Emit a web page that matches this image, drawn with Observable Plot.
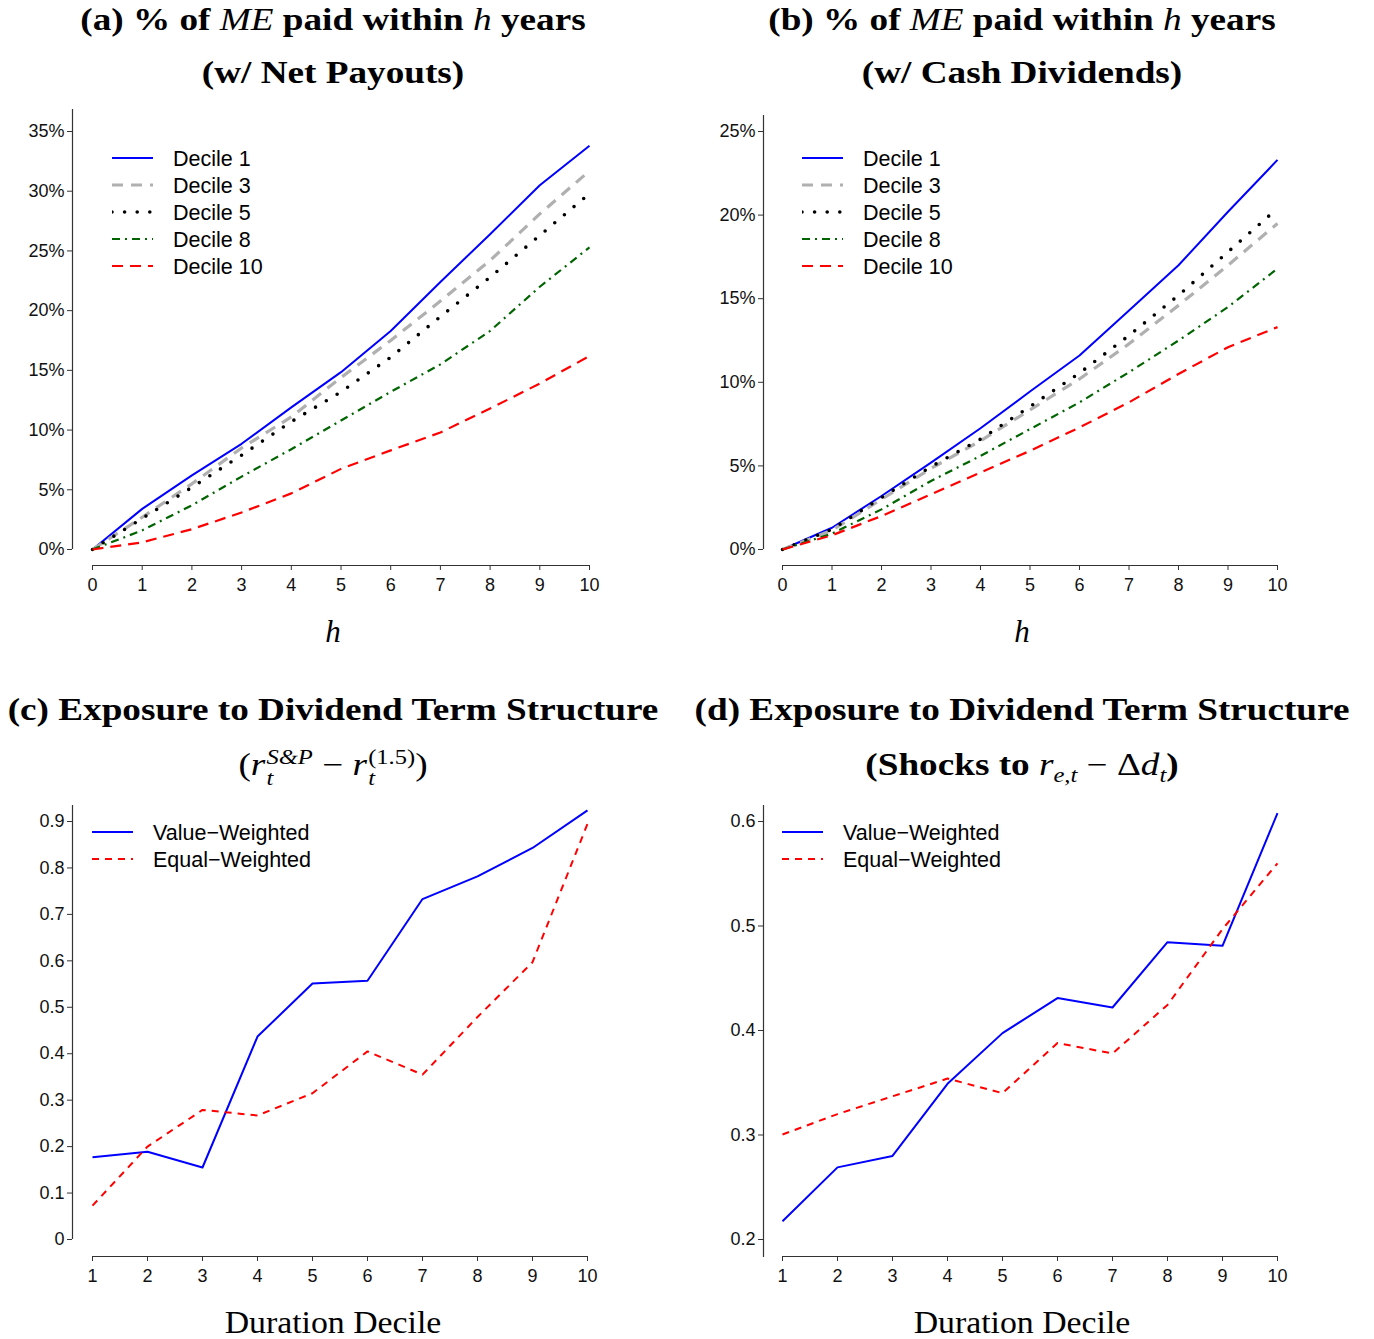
<!DOCTYPE html>
<html>
<head>
<meta charset="utf-8">
<script src="https://cdn.jsdelivr.net/npm/d3@7"></script>
<script src="https://cdn.jsdelivr.net/npm/@observablehq/plot@0.6"></script>
<style>
  html, body { margin: 0; padding: 0; background: #fff; }
  #page { position: relative; width: 1374px; height: 1339px; overflow: hidden; }
  .title { position: absolute; text-align: center; font-family: "Liberation Serif", serif; font-weight: bold; font-size: 31px; line-height: 36px; color: #000; white-space: nowrap; transform: scaleX(1.2); transform-origin: 50% 50%; }
  .title .m { font-style: italic; font-weight: normal; }
  .title .n { font-weight: normal; }
  .xlab { position: absolute; text-align: center; font-family: "Liberation Serif", serif; font-size: 31px; line-height: 36px; color: #000; white-space: nowrap; }
  .xlab.wide { transform: scaleX(1.09); transform-origin: 50% 50%; }
  .panel { position: absolute; }
  .ss { display: inline-block; vertical-align: middle; line-height: 1.0; font-size: 0.66em; text-align: left; margin-left: 1px; }
  .ss span { display: block; }
  .ss .sup { margin-bottom: 0px; }
</style>
</head>
<body>
<div id="page"></div>
<script>
// ---------------- data ----------------
const years = [0, 1, 2, 3, 4, 5, 6, 7, 8, 9, 10];
const deciles = [1, 2, 3, 4, 5, 6, 7, 8, 9, 10];

// Panel (a): % of ME paid within h years (net payouts), percent
const a_d1  = [0, 3.4, 6.2, 8.85, 11.9, 14.85, 18.3, 22.4, 26.4, 30.5, 33.8];
const a_d3  = [0, 2.7, 5.5, 8.5, 11.1, 14.4, 17.5, 20.8, 24.2, 28.1, 31.7];
const a_d5  = [0, 2.6, 5.2, 7.9, 10.7, 13.2, 16.1, 19.5, 22.8, 26.3, 29.8];
const a_d8  = [0, 1.6, 3.7, 6.1, 8.4, 10.8, 13.2, 15.5, 18.3, 22.0, 25.3];
const a_d10 = [0, 0.6, 1.7, 3.1, 4.7, 6.75, 8.3, 9.8, 11.8, 13.9, 16.2];

// Panel (b): % of ME paid within h years (cash dividends), percent
const b_d1  = [0, 1.3, 3.2, 5.2, 7.25, 9.45, 11.6, 14.3, 17.0, 20.2, 23.3];
const b_d3  = [0, 1.15, 3.0, 4.85, 6.5, 8.35, 10.2, 12.3, 14.6, 17.0, 19.5];
const b_d5  = [0, 1.2, 3.1, 4.95, 6.6, 8.55, 10.55, 12.8, 15.2, 17.8, 20.4];
const b_d8  = [0, 0.95, 2.4, 4.1, 5.6, 7.2, 8.8, 10.6, 12.5, 14.5, 16.8];
const b_d10 = [0, 0.85, 2.0, 3.3, 4.6, 5.9, 7.3, 8.8, 10.5, 12.1, 13.3];

// Panel (c): exposure to dividend term structure (r S&P - r(1.5))
const c_vw = [0.177, 0.189, 0.155, 0.437, 0.551, 0.557, 0.733, 0.782, 0.843, 0.924];
const c_ew = [0.073, 0.200, 0.279, 0.267, 0.315, 0.405, 0.355, 0.479, 0.597, 0.895];

// Panel (d): exposure to dividend term structure (shocks to r_e,t - Δd_t)
const d_vw = [0.2175, 0.269, 0.280, 0.349, 0.3975, 0.431, 0.422, 0.4845, 0.481, 0.608];
const d_ew = [0.3005, 0.320, 0.337, 0.354, 0.340, 0.388, 0.378, 0.4245, 0.497, 0.560];

const decileNames = ["Decile 1", "Decile 3", "Decile 5", "Decile 8", "Decile 10"];
const weightNames = ["Value\u2212Weighted", "Equal\u2212Weighted"];

const pctTicks_a = [0, 5, 10, 15, 20, 25, 30, 35];
const pctTicks_b = [0, 5, 10, 15, 20, 25];
const ticks_c = [0, 0.1, 0.2, 0.3, 0.4, 0.5, 0.6, 0.7, 0.8, 0.9];
const ticks_d = [0.2, 0.3, 0.4, 0.5, 0.6];

// ---------------- styles ----------------
const decileStyles = [
  {stroke: "#0000ff", strokeWidth: 2, dash: null, cap: "butt"},
  {stroke: "#b0b0b0", strokeWidth: 3.2, dash: "11,8", cap: "butt"},
  {stroke: "#000000", strokeWidth: 3.6, dash: "0,12.6", cap: "round"},
  {stroke: "#006400", strokeWidth: 2.2, dash: "8,5,2,5", cap: "butt"},
  {stroke: "#ff0000", strokeWidth: 2.2, dash: "11,7", cap: "butt"}
];
const weightStyles = [
  {stroke: "#0000ff", strokeWidth: 2, dash: null, cap: "butt"},
  {stroke: "#ff0000", strokeWidth: 2, dash: "7,6", cap: "butt"}
];

const page = document.getElementById("page");

function addDiv(cls, html, left, top, width) {
  const d = document.createElement("div");
  d.className = cls;
  d.innerHTML = html;
  d.style.left = left + "px";
  d.style.top = top + "px";
  d.style.width = width + "px";
  page.appendChild(d);
  return d;
}

function toRows(xs, ys) { return xs.map((x, i) => ({x, y: ys[i]})); }

function makePanel(cfg) {
  const marks = [];
  cfg.series.forEach((ys, i) => {
    const s = cfg.styles[i];
    marks.push(Plot.line(toRows(cfg.xs, ys), {
      x: "x", y: "y", stroke: s.stroke, strokeWidth: s.strokeWidth,
      strokeDasharray: s.dash || undefined, strokeLinecap: s.cap, strokeLinejoin: "round"
    }));
  });
  // axis lines (R style)
  marks.push(Plot.ruleX([cfg.xDomain[0]], {y1: cfg.yLine[0], y2: cfg.yLine[1], dx: -cfg.gapX, stroke: "#333", strokeWidth: 1.2}));
  marks.push(Plot.ruleY([cfg.yDomain[0]], {x1: cfg.xDomain[0], x2: cfg.xDomain[1], dy: cfg.gapY, stroke: "#333", strokeWidth: 1.2}));
  marks.push(Plot.axisY({ticks: cfg.yTicks, tickFormat: cfg.yFormat, tickSize: 5, tickPadding: 3, label: null, fontSize: 18, stroke: "#333"}));
  marks.push(Plot.axisX({ticks: cfg.xTicks, tickFormat: d => String(d), tickSize: 5, tickPadding: 8, label: null, fontSize: 18, stroke: "#333"}));
  const svg = Plot.plot({
    width: cfg.width, height: cfg.height,
    marginLeft: cfg.marginLeft, marginRight: 20, marginTop: cfg.marginTop, marginBottom: cfg.marginBottom,
    x: {domain: cfg.xDomain, range: cfg.xRange},
    y: {domain: cfg.yDomain, range: cfg.yRange},
    style: {fontFamily: "'Liberation Sans', Arial, sans-serif", fontSize: "18px", color: "#111", background: "transparent"},
    marks
  });
  const wrap = document.createElement("div");
  wrap.className = "panel";
  wrap.style.left = cfg.left + "px";
  wrap.style.top = cfg.top + "px";
  wrap.appendChild(svg);
  page.appendChild(wrap);
}

function makeLegend(names, styles, left, top, textX, rowH, width) {
  const h = rowH * names.length + 10;
  const svg = d3.create("svg").attr("width", width).attr("height", h)
    .style("position", "absolute").style("left", left + "px").style("top", top + "px");
  names.forEach((n, i) => {
    const s = styles[i];
    const y = 10 + i * rowH;
    svg.append("line").attr("x1", 0).attr("x2", 41).attr("y1", y).attr("y2", y)
      .attr("stroke", s.stroke).attr("stroke-width", s.strokeWidth)
      .attr("stroke-dasharray", s.dash).attr("stroke-linecap", s.cap);
    svg.append("text").attr("x", textX).attr("y", y).attr("dy", "0.36em")
      .attr("font-family", "'Liberation Sans', Arial, sans-serif").attr("font-size", 21.5)
      .attr("fill", "#000").text(n);
  });
  page.appendChild(svg.node());
}

const pctFmt = d => d + "%";

// Panel (a)
makePanel({
  left: 0, top: 95, width: 687, height: 510, marginLeft: 72, marginTop: 12, marginBottom: 40,
  xs: years, series: [a_d1, a_d3, a_d5, a_d8, a_d10], styles: decileStyles,
  xDomain: [0, 10], xRange: [92, 589], yDomain: [0, 35], yRange: [454, 36],
  yLine: [0, 36.85], gapX: 20, gapY: 16,
  yTicks: pctTicks_a, yFormat: pctFmt, xTicks: years
});
// Panel (b)
makePanel({
  left: 690, top: 95, width: 684, height: 510, marginLeft: 73, marginTop: 12, marginBottom: 40,
  xs: years, series: [b_d1, b_d3, b_d5, b_d8, b_d10], styles: decileStyles,
  xDomain: [0, 10], xRange: [92, 587], yDomain: [0, 25], yRange: [454, 36],
  yLine: [0, 25.96], gapX: 19, gapY: 16,
  yTicks: pctTicks_b, yFormat: pctFmt, xTicks: years
});
// Panel (c)
makePanel({
  left: 0, top: 785, width: 687, height: 510, marginLeft: 72, marginTop: 20, marginBottom: 39,
  xs: deciles, series: [c_vw, c_ew], styles: weightStyles,
  xDomain: [1, 10], xRange: [92, 587], yDomain: [0, 0.9], yRange: [454, 36],
  yLine: [0, 0.9345], gapX: 20, gapY: 17,
  yTicks: ticks_c, yFormat: d => d === 0 ? "0" : d.toFixed(1), xTicks: deciles
});
// Panel (d)
makePanel({
  left: 690, top: 785, width: 684, height: 510, marginLeft: 73, marginTop: 20, marginBottom: 39,
  xs: deciles, series: [d_vw, d_ew], styles: weightStyles,
  xDomain: [1, 10], xRange: [92, 587], yDomain: [0.2, 0.6], yRange: [454, 36],
  yLine: [0.1828, 0.6153], gapX: 19, gapY: 17,
  yTicks: ticks_d, yFormat: d => d.toFixed(1), xTicks: deciles
});

// Legends
makeLegend(decileNames, decileStyles, 112, 148, 61, 27, 220);
makeLegend(decileNames, decileStyles, 802, 148, 61, 27, 220);
makeLegend(weightNames, weightStyles, 92, 822, 61, 27, 260);
makeLegend(weightNames, weightStyles, 782, 822, 61, 27, 260);

// Titles
addDiv("title", '(a) % of <span class="m">ME</span> paid within <span class="m">h</span> years', 0, 2, 666);
addDiv("title", '(w/ Net Payouts)', 0, 55, 666);
addDiv("title", '(b) % of <span class="m">ME</span> paid within <span class="m">h</span> years', 690, 2, 664);
addDiv("title", '(w/ Cash Dividends)', 690, 55, 664);
addDiv("title", '(c) Exposure to Dividend Term Structure', 0, 692, 666);
addDiv("title", '<span class="n">(<span class="m">r</span><span class="ss"><span class="sup m">S&amp;P</span><span class="m">t</span></span> \u2212 <span class="m">r</span><span class="ss"><span class="sup">(1.5)</span><span class="m">t</span></span>)</span>', 0, 747, 666);
addDiv("title", '(d) Exposure to Dividend Term Structure', 690, 692, 664);
addDiv("title", '(Shocks to <span class="m">r</span><sub class="m" style="font-size:0.66em">e,t</sub> <span class="n">\u2212 \u0394<span class="m">d</span><sub class="m" style="font-size:0.66em">t</sub></span>)', 690, 747, 664);

// Axis titles
addDiv("xlab", '<i>h</i>', 0, 614, 666);
addDiv("xlab", '<i>h</i>', 690, 614, 664);
addDiv("xlab wide", 'Duration Decile', 0, 1305, 666);
addDiv("xlab wide", 'Duration Decile', 690, 1305, 664);
</script>
</body>
</html>
